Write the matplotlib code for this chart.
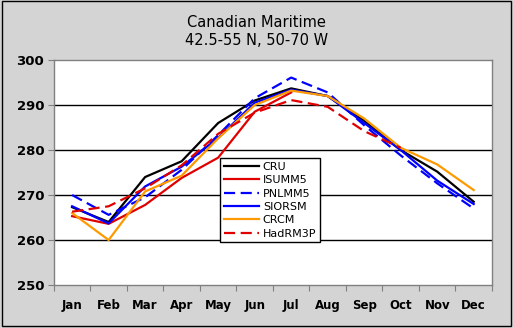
import numpy as np
import matplotlib
matplotlib.use('Agg')
import matplotlib.pyplot as plt

months = ['Jan', 'Feb', 'Mar', 'Apr', 'May', 'Jun', 'Jul', 'Aug', 'Sep', 'Oct', 'Nov', 'Dec']
nan = np.nan
cru = [267.3, 264.0, 274.0, 277.5, 286.0, 291.0, 293.7, 292.0, 286.5, 280.0, 275.2, 268.5]
isumm5 = [265.3, 263.6, 267.8, 273.8, 278.3, 288.5, 292.8, nan, nan, nan, nan, nan]
pnlmm5 = [270.0, 265.6, 269.5, 275.6, 283.3, 291.5, 296.1, 292.8, 285.5, 278.8, 272.6, 267.0]
siorsm = [267.5, 263.7, 271.9, 276.3, 282.7, 290.5, 293.4, 292.0, 286.0, 280.0, 273.2, 268.0]
crcm = [266.0, 260.0, 270.8, 274.3, 282.6, 290.0, 293.2, 292.0, 287.0, 280.5, 276.8, 271.1]
hadrm3p = [266.3, 267.5, 271.5, 276.6, 283.6, 288.3, 291.1, 289.6, 284.2, 280.5, nan, nan]

series = [
    ('CRU', cru, '#000000', '-'),
    ('ISUMM5', isumm5, '#e00000', '-'),
    ('PNLMM5', pnlmm5, '#0000ff', '--'),
    ('SIORSM', siorsm, '#0000ff', '-'),
    ('CRCM', crcm, '#ff9900', '-'),
    ('HadRM3P', hadrm3p, '#e00000', '--'),
]

fig = plt.figure(figsize=(5.13, 3.28), dpi=100, facecolor='#d4d4d4')
ax = fig.add_axes([0.105, 0.131, 0.854, 0.686])
ax.set_facecolor('white')

x = np.arange(len(months)) + 0.5
for name, vals, col, ls in series:
    line, = ax.plot(x, vals, color=col, linestyle=ls, linewidth=1.6, label=name)
    if ls == '--':
        line.set_dashes((5, 2.5))

ax.set_xlim(0, 12)
ax.set_ylim(250, 300)
ax.set_yticks(np.arange(250, 301, 10))
ax.set_xticks(np.arange(0, 13))
ax.set_xticklabels([])
ax.set_xticks(x, minor=True)
ax.set_xticklabels(months, minor=True, fontweight='bold', fontsize=8.5)
ax.tick_params(axis='x', which='minor', length=0, pad=10)
ax.tick_params(axis='x', which='major', length=4, color='#808080', direction='out')
ax.tick_params(axis='y', length=4, color='#808080', labelsize=9.5, pad=3)
for lab in ax.get_yticklabels():
    lab.set_fontweight('bold')

for v in [260, 270, 280, 290]:
    ax.axhline(v, color='black', linewidth=1, zorder=0.5)
for sp in ax.spines.values():
    sp.set_color('#808080')
    sp.set_linewidth(1)

fig.text(0.5, 0.93, 'Canadian Maritime', ha='center', va='center', fontsize=10.5)
fig.text(0.5, 0.877, '42.5-55 N, 50-70 W', ha='center', va='center', fontsize=10.5)

leg = ax.legend(loc='upper left', bbox_to_anchor=(220 / 513, 1 - 158 / 328),
                bbox_transform=fig.transFigure, fontsize=8, frameon=True,
                fancybox=False, edgecolor='black', framealpha=1,
                handlelength=3.2, handletextpad=0.3, labelspacing=0.3,
                borderpad=0.35, borderaxespad=0)
leg.get_frame().set_linewidth(1)

fig.add_artist(plt.Rectangle((0.003, 0.006), 0.993, 0.99, transform=fig.transFigure,
                             fill=False, edgecolor='black', linewidth=1))

fig.savefig('out.png', dpi=100, facecolor=fig.get_facecolor())
